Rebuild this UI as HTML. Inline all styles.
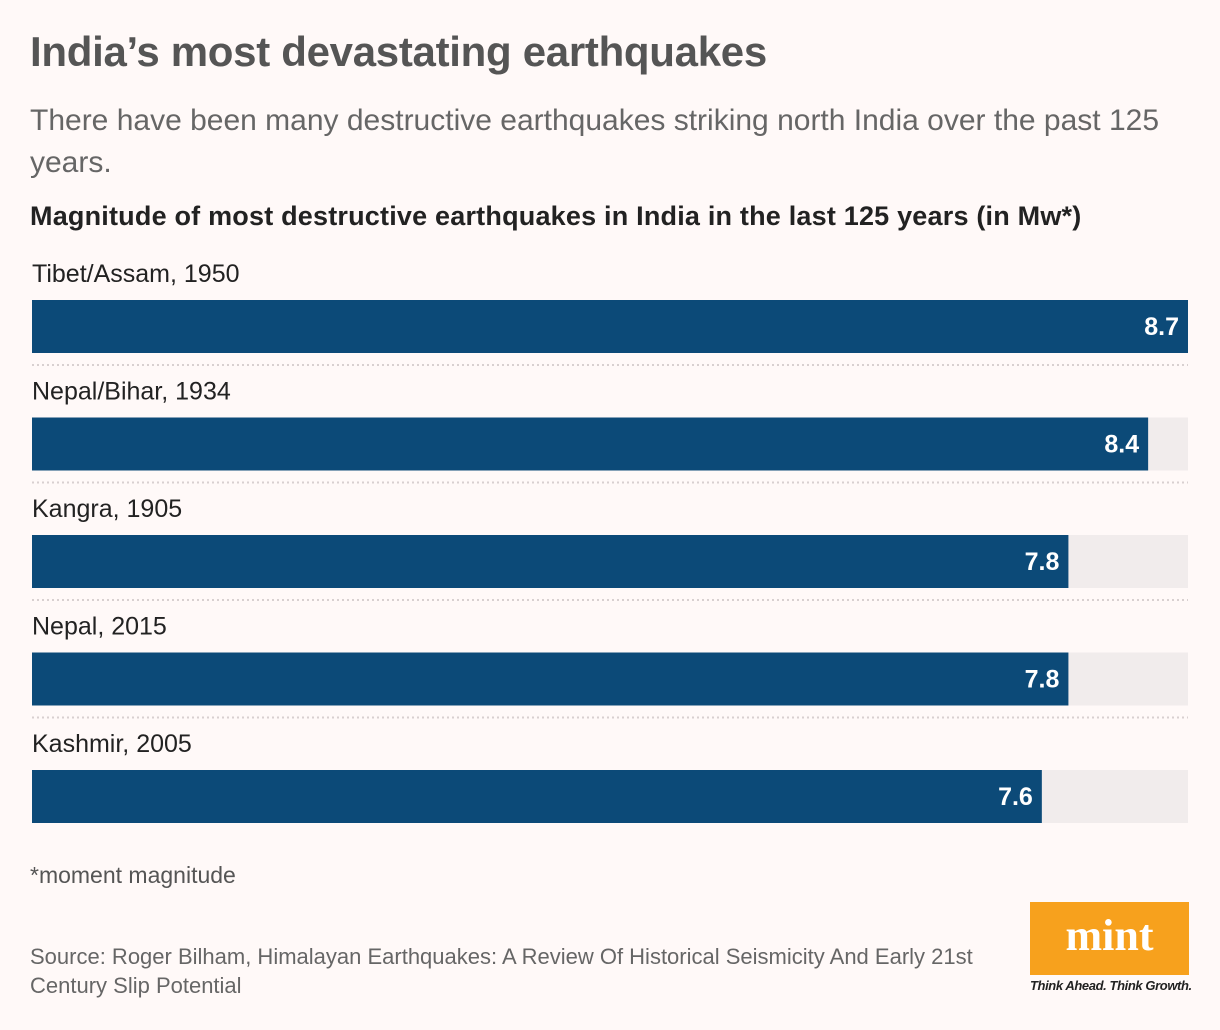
<!DOCTYPE html>
<html><head><meta charset="utf-8"><style>
body{margin:0;background:#fff9f8;width:1220px;height:1030px;position:relative;font-family:"Liberation Sans",sans-serif;overflow:hidden}
.a{position:absolute;white-space:nowrap}
</style></head><body>
<div class="a" style="left:30px;top:28px;font-size:42px;font-weight:bold;color:#555;letter-spacing:-0.3px">India’s most devastating earthquakes</div>
<div class="a" style="left:30px;top:100px;font-size:30px;color:#666;line-height:42px;white-space:normal;width:1150px">There have been many destructive earthquakes striking north India over the past 125 years.</div>
<div class="a" style="left:30px;top:201px;font-size:27px;font-weight:bold;color:#222;letter-spacing:0.2px">Magnitude of most destructive earthquakes in India in the last 125 years (in Mw*)</div>
<svg class="a" style="left:0;top:0" width="1220" height="1030" id="c"></svg>
<div class="a" style="left:30px;top:862px;font-size:23px;color:#555">*moment magnitude</div>
<div class="a" style="left:30px;top:942px;font-size:22px;color:#666;line-height:29px;white-space:normal;width:980px">Source: Roger Bilham, Himalayan Earthquakes: A Review Of Historical Seismicity And Early 21st Century Slip Potential</div>
<div class="a" style="left:1030px;top:902px;width:159px;height:73px;background:#f7a11d;color:#fff;font-family:'Liberation Serif',serif;font-weight:bold;font-size:44px;text-align:center;line-height:68px">mint</div>
<div class="a" style="left:1030px;top:978px;font-size:13px;font-style:italic;font-weight:bold;color:#222;letter-spacing:-0.4px">Think Ahead. Think Growth.</div>
<script>
const categories=["Tibet/Assam, 1950","Nepal/Bihar, 1934","Kangra, 1905","Nepal, 2015","Kashmir, 2005"];
const values=[8.7,8.4,7.8,7.8,7.6];
const labels=["8.7","8.4","7.8","7.8","7.6"];
const maxV=8.7;
const svg=document.getElementById('c');
const NS='http://www.w3.org/2000/svg';
const x0=32,W=1156;
function xs(v){return W*v/maxV;}
function el(t,a){const e=document.createElementNS(NS,t);for(const k in a)e.setAttribute(k,a[k]);svg.appendChild(e);return e;}
categories.forEach((c,i)=>{
 const y=300+i*117.5;
 const l=el('text',{x:32,y:y-18,'font-size':25,fill:'#222','font-family':'Liberation Sans, sans-serif'});l.textContent=c;
 
 
 const t=el('rect',{x:x0,y:y,width:W,height:53,fill:'#f1ecec'});
 
 
 const b=el('rect',{x:x0,y:y,width:xs(values[i]),height:53,fill:'#0c4a78'});
 
 
 const v=el('text',{x:x0+xs(values[i])-9,y:y+35,'font-size':25,'font-weight':'bold',fill:'#fff','text-anchor':'end','font-family':'Liberation Sans, sans-serif'});v.textContent=labels[i];
 
 
 if(i<categories.length-1){const d=el('line',{x1:32,x2:1188,y1:y+65,y2:y+65,stroke:'#d8d0d0','stroke-width':2,'stroke-dasharray':'2 3'});
 
 }
});
</script>
</body></html>
